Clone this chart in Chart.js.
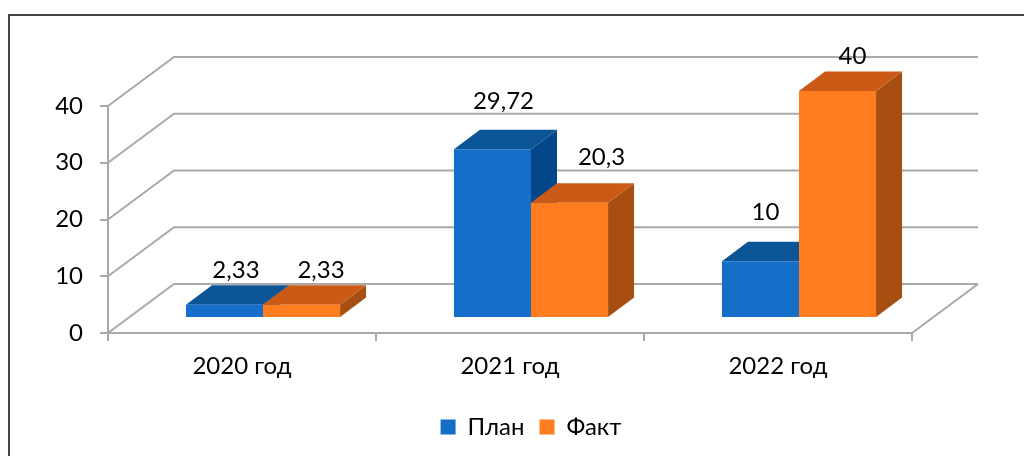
<!DOCTYPE html>
<html>
<head>
<meta charset="utf-8">
<style>
  html, body { margin: 0; padding: 0; background: #fff; }
  #wrap { width: 1024px; height: 456px; }
</style>
<script src="https://cdn.jsdelivr.net/npm/chart.js@4"></script>
</head>
<body>
<div id="wrap"><canvas id="chart" width="1024" height="456"></canvas></div>
<script>
const categories = ['2020 год', '2021 год', '2022 год'];
const planValues = [2.33, 29.72, 10];
const factValues = [2.33, 20.3, 40];
const yMax = 40;
const yStep = 10;

const FONT = 'Lato, "Open Sans", sans-serif';
const FONT_SIZE = 24;
const GRID = '#a9a9a9';

// fake 3D: wall depth and how far the bars stand off the front plane
const wall = { dx: 66, dy: -49 };
const plane = { dx: 21, dy: -15 };
const depth = { dx: 26, dy: -19.5 };

const faces = [
  { top: '#0b5596', side: '#04468a' },
  { top: '#cc5a17', side: '#a64f10' }
];

// hand placed labels in the original, nudged off each bar top
const labelNudge = [
  [[11.5, -35], [11, -48], [5, -49]],
  [[19.5, -35], [32, -46], [15, -35]]
];

function fmt(v) {
  return String(v).replace('.', ',');
}

function drawWalls(chart) {
  const c = chart.ctx;
  const { left, right } = chart.chartArea;
  const y = chart.scales.y;
  c.save();
  c.strokeStyle = GRID;
  c.lineWidth = 2;
  y.ticks.forEach(t => {
    const py = y.getPixelForValue(t.value);
    c.beginPath();
    c.moveTo(left, py);
    c.lineTo(left + wall.dx, py + wall.dy);
    c.lineTo(right + wall.dx, py + wall.dy);
    c.stroke();
  });
  const py0 = y.getPixelForValue(0);
  c.beginPath();
  c.moveTo(right, py0);
  c.lineTo(right + wall.dx, py0 + wall.dy);
  c.stroke();
  c.restore();
}

function drawBars(chart, index) {
  const c = chart.ctx;
  const f = faces[index];
  const meta = chart.getDatasetMeta(index);
  c.save();
  c.translate(plane.dx, plane.dy);
  meta.data.forEach(bar => {
    const l = bar.x - bar.width / 2, r = bar.x + bar.width / 2;
    c.fillStyle = f.side;
    c.beginPath();
    c.moveTo(r, bar.y);
    c.lineTo(r + depth.dx, bar.y + depth.dy);
    c.lineTo(r + depth.dx, bar.base + depth.dy);
    c.lineTo(r, bar.base);
    c.closePath();
    c.fill();
    c.fillStyle = f.top;
    c.beginPath();
    c.moveTo(l, bar.y);
    c.lineTo(l + depth.dx, bar.y + depth.dy);
    c.lineTo(r + depth.dx, bar.y + depth.dy);
    c.lineTo(r, bar.y);
    c.closePath();
    c.fill();
  });
  meta.controller.draw();
  c.restore();
}

function drawLabels(chart) {
  const c = chart.ctx;
  c.save();
  c.font = FONT_SIZE + 'px ' + FONT;
  c.fillStyle = '#000';
  c.textAlign = 'center';
  c.textBaseline = 'middle';
  chart.data.datasets.forEach((ds, i) => {
    chart.getDatasetMeta(i).data.forEach((bar, j) => {
      const n = labelNudge[i][j];
      c.fillText(fmt(ds.data[j]), bar.x + plane.dx + n[0], bar.y + plane.dy + n[1]);
    });
  });
  c.restore();
}

const frame3d = {
  id: 'frame3d',
  afterLayout(chart) {
    chart.legend.left += 75;
    chart.legend.right += 75;
  },
  beforeDraw(chart) {
    const c = chart.ctx;
    c.save();
    c.fillStyle = '#fff';
    c.fillRect(0, 0, chart.width, chart.height);
    c.strokeStyle = '#444';
    c.lineWidth = 2;
    c.beginPath();
    c.moveTo(9, chart.height);
    c.lineTo(9, 15);
    c.lineTo(chart.width, 15);
    c.stroke();
    c.restore();
  },
  // plan has to be painted first, fact sits on top of it
  beforeDatasetsDraw(chart) {
    drawWalls(chart);
    drawBars(chart, 0);
    drawBars(chart, 1);
    drawLabels(chart);
    return false;
  }
};

new Chart(document.getElementById('chart'), {
  type: 'bar',
  plugins: [frame3d],
  data: {
    labels: categories,
    datasets: [
      { label: 'План', data: planValues, backgroundColor: '#156ec8' },
      { label: 'Факт', data: factValues, backgroundColor: '#ff7c1f' }
    ]
  },
  options: {
    responsive: false,
    animation: false,
    layout: { padding: { top: 106, right: 112, bottom: 7, left: 0 } },
    datasets: { bar: { categoryPercentage: 0.575, barPercentage: 1 } },
    scales: {
      x: {
        afterFit: s => { s.height = 67; },
        border: { color: GRID, width: 2 },
        grid: { drawOnChartArea: false, color: GRID, lineWidth: 2, tickLength: 8 },
        ticks: { color: '#000', font: { family: FONT, size: FONT_SIZE }, padding: 11, maxRotation: 0, autoSkip: false }
      },
      y: {
        min: 0,
        max: yMax,
        afterFit: s => { s.width = 108; },
        border: { color: GRID, width: 2 },
        grid: { drawOnChartArea: false, color: GRID, lineWidth: 2, tickLength: 8 },
        ticks: { stepSize: yStep, color: '#000', font: { family: FONT, size: FONT_SIZE }, padding: 17 }
      }
    },
    plugins: {
      tooltip: { enabled: false },
      legend: {
        position: 'bottom',
        labels: { color: '#000', font: { family: FONT, size: FONT_SIZE }, boxWidth: 15, boxHeight: 15, padding: 15 }
      }
    }
  }
});
</script>
</body>
</html>
